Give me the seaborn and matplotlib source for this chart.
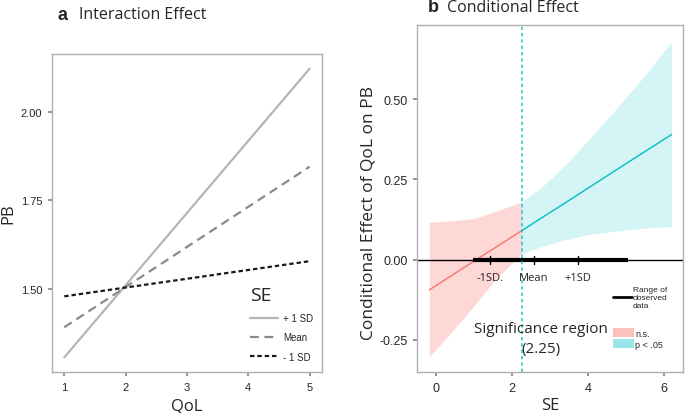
import numpy as np
import pandas as pd
import matplotlib.pyplot as plt
import seaborn as sns
from matplotlib.lines import Line2D
from matplotlib.patches import Patch

sns.set_theme(style="white")
plt.rcParams['font.family'] = ['Liberation Sans', 'DejaVu Sans']

# --- panel a: simple slopes ---
qol = [1, 5]
pb_plus = [1.308, 2.121]
pb_mean = [1.393, 1.845]
pb_minus = [1.480, 1.579]
se_levels = ['+ 1 SD', 'Mean', '- 1 SD']

# --- panel b: conditional effect (Johnson-Neyman) ---
se_x = [-0.18, 0.4, 1.0, 1.6, 2.25, 2.8, 3.4, 4.0, 4.8, 5.5, 6.2]
effect = [-0.094, -0.050, -0.004, 0.041, 0.090, 0.132, 0.177, 0.223, 0.284, 0.337, 0.390]
ci_low = [-0.303, -0.226, -0.143, -0.057, 0.018, 0.042, 0.062, 0.078, 0.090, 0.098, 0.104]
ci_high = [0.116, 0.121, 0.128, 0.152, 0.180, 0.228, 0.295, 0.372, 0.478, 0.575, 0.678]
threshold = 2.25
obs_range = [0.97, 5.05]
sd_marks = [1.42, 2.58, 3.74]
sd_labels = ['-1SD.', 'Mean', '+1SD']

col_ns = '#F8766D'
col_sig = '#00BFC4'
label_font = ['Open Sans', 'DejaVu Sans']

fig = plt.figure(figsize=(6.85, 4.14), dpi=100)
ax1 = fig.add_axes([0.0759, 0.099, 0.394, 0.768])
ax2 = fig.add_axes([0.609, 0.099, 0.388, 0.838])

# panel a
df_a = pd.DataFrame({
    'QoL': qol * 3,
    'PB': pb_plus + pb_mean + pb_minus,
    'SE': [se_levels[0]] * 2 + [se_levels[1]] * 2 + [se_levels[2]] * 2,
})
pal_a = {'+ 1 SD': '#b5b5b5', 'Mean': '#8a8a8a', '- 1 SD': '#1a1a1a'}
dash_a = {'+ 1 SD': '', 'Mean': (4, 2.5), '- 1 SD': (2, 1.3)}
sns.lineplot(data=df_a, x='QoL', y='PB', hue='SE', style='SE', palette=pal_a,
             dashes=dash_a, linewidth=1.6, ax=ax1, legend=False)
ax1.set_xlim(0.8, 5.2)
ax1.set_ylim(1.267, 2.162)
ax1.set_xticks([1, 2, 3, 4, 5])
ax1.set_yticks([1.50, 1.75, 2.00])
ax1.set_yticklabels(['1.50', '1.75', '2.00'])
ax1.set_xlabel('QoL', fontsize=12, family=label_font, va='baseline')
ax1.xaxis.set_label_coords(0.5, (373 - 410) / 318)
ax1.set_ylabel('PB', fontsize=12, family=label_font, va='center')
ax1.yaxis.set_label_coords((8 - 52) / 270, 0.5)

handles_a = [Line2D([], [], color=pal_a[s], lw=1.6,
                    linestyle=(0, dash_a[s]) if dash_a[s] else '-') for s in se_levels]
leg_a = ax1.legend(handles_a, se_levels, title='SE', frameon=False, fontsize=7,
                   loc='lower right', bbox_to_anchor=(1.0, 0.005), handlelength=2.9,
                   handletextpad=0.5, labelspacing=0.95)
leg_a.get_title().set_fontsize(14)
leg_a.get_title().set_family(label_font)
leg_a._legend_box.align = 'left'

# panel b
df_b = pd.DataFrame({'SE': se_x, 'effect': effect, 'low': ci_low, 'high': ci_high})
df_ns = df_b[df_b['SE'] <= threshold].assign(sig='n.s.')
df_sig = df_b[df_b['SE'] >= threshold].assign(sig='p < .05')
df_line = pd.concat([df_ns, df_sig])

ax2.fill_between(df_ns['SE'], df_ns['low'], df_ns['high'], color=col_ns, alpha=0.28, lw=0)
ax2.fill_between(df_sig['SE'], df_sig['low'], df_sig['high'], color=col_sig, alpha=0.17, lw=0)
sns.lineplot(data=df_line, x='SE', y='effect', hue='sig',
             palette={'n.s.': col_ns, 'p < .05': col_sig}, linewidth=1.0,
             ax=ax2, legend=False)
ax2.axhline(0, color='black', lw=1.0)
ax2.plot(obs_range, [0, 0], color='black', lw=3, solid_capstyle='butt')
ax2.axvline(threshold, color=col_sig, lw=1.2, linestyle=(0, (2, 1.8)), alpha=0.8)
for m, lab in zip(sd_marks, sd_labels):
    ax2.plot([m, m], [-0.012, 0.012], color='black', lw=1.0)
    ax2.text(m, -0.038, lab, ha='center', va='top', fontsize=8, family=label_font)

ax2.text(2.76, -0.245, 'Significance region\n(2.25)', ha='center', va='center',
         fontsize=11, family=label_font, linespacing=1.45)

ax2.set_xlim(-0.5, 6.5)
ax2.set_ylim(-0.35, 0.731)
ax2.set_xticks([0, 2, 4, 6])
ax2.set_yticks([-0.25, 0, 0.25, 0.50])
ax2.set_yticklabels(['-0.25', '0.00', '0.25', '0.50'])
ax2.set_xlabel('SE', fontsize=12, family=label_font, va='baseline')
ax2.xaxis.set_label_coords(0.5, (373 - 410) / 347)
ax2.set_ylabel('Conditional Effect of QoL on PB', fontsize=12.5, family=label_font, va='center')
ax2.yaxis.set_label_coords((368 - 417) / 266, (373 - 213) / 347)

leg_r = ax2.legend([Line2D([], [], color='black', lw=2)], ['Range of\nobserved\ndata'],
                   frameon=False, fontsize=6, loc='center left', borderaxespad=0,
                   bbox_to_anchor=(0.726, (373 - 298) / 347), handlelength=2.3,
                   handletextpad=0.15, borderpad=0.3)
ax2.add_artist(leg_r)
ax2.legend([Patch(color=col_ns, alpha=0.45, lw=0), Patch(color=col_sig, alpha=0.4, lw=0)],
           ['n.s.', 'p < .05'], frameon=False, fontsize=6.5, loc='center left',
           borderaxespad=0, bbox_to_anchor=(0.726, (373 - 339.5) / 347),
           handlelength=2.4, handleheight=1.15, handletextpad=0.1, labelspacing=0.2,
           borderpad=0.3)

for ax, size in ((ax1, 8), (ax2, 9)):
    for sp in ax.spines.values():
        sp.set_color('#b0b0b0')
        sp.set_linewidth(1.0)
    ax.tick_params(bottom=True, left=True, length=3, color='#888888', labelsize=size, pad=4)

fig.text(58 / 685, 1 - 15 / 414, 'a', fontsize=13, fontweight='bold', va='center')
fig.text(79 / 685, 1 - 15 / 414, 'Interaction Effect', fontsize=11.5, family=label_font, va='center')
fig.text(428 / 685, 1 - 8 / 414, 'b', fontsize=13, fontweight='bold', va='center')
fig.text(447 / 685, 1 - 8 / 414, 'Conditional Effect', fontsize=11.5, family=label_font, va='center')

fig.savefig('out.png', dpi=100)
